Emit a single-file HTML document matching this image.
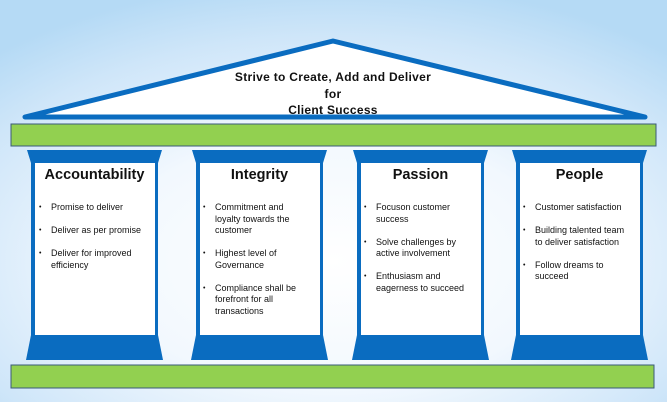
<!DOCTYPE html>
<html><head><style>
html,body{margin:0;padding:0}
body{width:667px;height:402px;position:relative;overflow:hidden;font-family:"Liberation Sans",sans-serif;
background:radial-gradient(ellipse 75% 70% at 50% 65%,#ffffff 0%,#f2f8fe 45%,#cfe6f9 80%,#b5daf5 100%);}
svg{position:absolute;left:0;top:0}
.t{position:absolute;text-align:center;font-weight:bold;color:#111}
.title{left:183px;width:300px;top:69px;font-size:12px;line-height:16.5px;letter-spacing:0.3px}
.h{font-size:14.5px;top:167px;width:125px}
ul{position:absolute;margin:0;padding:0;list-style:none;font-size:9px;line-height:11.5px;color:#111;width:102px}
li{position:relative;padding-left:12px;margin-bottom:11.5px}
li:before{content:"•";position:absolute;left:0;font-size:7px}
</style></head><body>
<svg width="667" height="402">
<polygon points="25,117 333,41 645,117" fill="#fff" stroke="#0a6cc0" stroke-width="5" stroke-linejoin="round"/>
<rect x="11" y="124" width="645" height="22" fill="#92d050" stroke="#3a5a78" stroke-width="1"/>
<rect x="11" y="365" width="643" height="23" fill="#92d050" stroke="#3a5a78" stroke-width="1"/>
<g fill="#0a6cc0">
<g id="c">
<polygon points="27,150 162,150 158,163 31,163"/>
<rect x="31" y="163" width="127" height="173"/>
<polygon points="31,335 158,335 163,360 26,360"/>
<rect x="35" y="163" width="120" height="172" fill="#fff"/>
</g>
<use href="#c" x="165"/>
<use href="#c" x="326"/>
<use href="#c" x="485"/>
</g>
</svg>
<div class="t title">Strive to Create, Add and Deliver<br>for<br>Client Success</div>
<div class="t h" style="left:32px">Accountability</div>
<div class="t h" style="left:197px">Integrity</div>
<div class="t h" style="left:358px">Passion</div>
<div class="t h" style="left:517px">People</div>
<ul style="left:39px;top:202px;width:112px"><li>Promise to deliver</li><li>Deliver as per promise</li><li>Deliver for improved efficiency</li></ul>
<ul style="left:203px;top:202px;width:100px"><li>Commitment and loyalty towards the customer</li><li>Highest level of Governance</li><li>Compliance shall be forefront for all transactions</li></ul>
<ul style="left:364px;top:202px;width:104px"><li>Focuson customer success</li><li>Solve challenges by active involvement</li><li>Enthusiasm and eagerness to succeed</li></ul>
<ul style="left:523px;top:202px;width:104px"><li>Customer satisfaction</li><li>Building talented team to deliver satisfaction</li><li>Follow dreams to succeed</li></ul>
</body></html>
